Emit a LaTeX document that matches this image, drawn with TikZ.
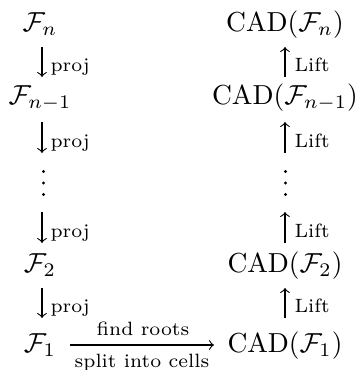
\documentclass[tikz,border=0pt]{standalone}
\usepackage{amsmath}
\begin{document}
\begin{tikzpicture}[x=0.36364pt,y=0.36364pt,
  obj/.style={inner sep=0pt,anchor=base},
  lbl/.style={inner sep=0pt,font=\scriptsize,anchor=base west},
  hlbl/.style={inner sep=0pt,font=\scriptsize,anchor=base},
  dotmark/.style={circle,fill,inner sep=0pt,minimum size=1.15pt},
  arr/.style={->,line width=0.4pt}]
\useasboundingbox (0,0) rectangle (355,370);
% left column
\node[obj] (Fn)  at (40,339) {$\mathcal{F}_n$};
\node[obj] (Fn1) at (40,266) {$\mathcal{F}_{n-1}$};
\node[obj] (F2)  at (40,98)  {$\mathcal{F}_2$};
\node[obj] (F1)  at (40,18)  {$\mathcal{F}_1$};
% right column
\node[obj] (Cn)  at (285,339) {$\mathrm{CAD}(\mathcal{F}_n)$};
\node[obj] (Cn1) at (285,266) {$\mathrm{CAD}(\mathcal{F}_{n-1})$};
\node[obj] (C2)  at (285,98)  {$\mathrm{CAD}(\mathcal{F}_2)$};
\node[obj] (C1)  at (285,18)  {$\mathrm{CAD}(\mathcal{F}_1)$};
% vertical dots
\foreach \yy [count=\k] in {198.5,187,175.5}{
  \node[dotmark] (dl\k) at (43.5,\yy) {};
  \node[dotmark] (dr\k) at (285.5,\yy) {};
}
% arrow end points
\coordinate (a1) at (42,323); \coordinate (b1) at (42,293);
\coordinate (a2) at (42,248); \coordinate (b2) at (42,217);
\coordinate (a3) at (42,158); \coordinate (b3) at (42,127);
\coordinate (a4) at (42,82);  \coordinate (b4) at (42,52);
\coordinate (c1) at (285,323); \coordinate (d1) at (285,293);
\coordinate (c2) at (285,248); \coordinate (d2) at (285,217);
\coordinate (c3) at (285,158); \coordinate (d3) at (285,127);
\coordinate (c4) at (285,82);  \coordinate (d4) at (285,52);
\foreach \i in {1,2,3,4}{
  \draw[arr] (a\i) -- (b\i);
  \node[lbl] at ([shift={(8,5.5)}]b\i) {proj};
  \draw[arr] (d\i) -- (c\i);
  \node[lbl] at ([shift={(9,5.5)}]d\i) {Lift};
}
% horizontal arrow
\coordinate (h1) at (70,25);
\coordinate (h2) at (214,25);
\draw[arr] (h1) -- (h2);
\node[hlbl] at (143,35) {find roots};
\node[hlbl] at (142,2) {split into cells};
\end{tikzpicture}
\end{document}
